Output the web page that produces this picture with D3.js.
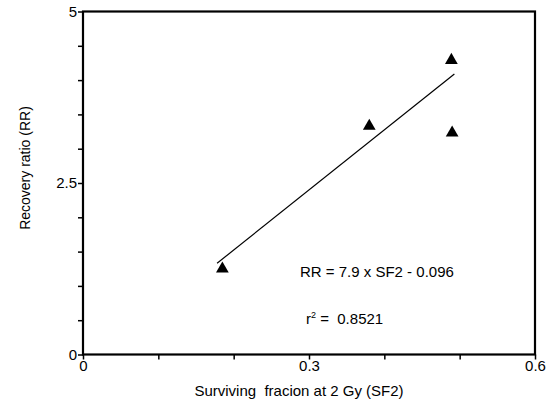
<!DOCTYPE html>
<html>
<head>
    <title>Recovery ratio vs SF2</title>
    <script src="https://d3js.org/d3.v7.min.js"></script>
    <style>
        body {
            margin: 0;
            padding: 0;
            background-color: #fff;
            font-family: "Liberation Sans", Arial, sans-serif;
        }
        .axis text {
            fill: #000;
            font-family: "Liberation Sans", Arial, sans-serif;
            font-size: 15px;
        }
        .axis path {
            stroke: none;
        }
        .axis line {
            stroke: #000;
            stroke-width: 1.5;
        }
        .label {
            fill: #000;
            font-size: 15px;
            white-space: pre;
        }
    </style>
</head>
<body>
    <svg id="chart"></svg>
    <script>
        // Data
        const sf2 = [0.185, 0.380, 0.489, 0.490];
        const rr = [1.25, 3.33, 4.29, 3.23];
        const fitX = [0.178, 0.493];
        const fitY = [1.33, 4.09];
        const xTicks = [0, 0.1, 0.2, 0.3, 0.4, 0.5, 0.6];
        const xTickLabels = ['0', '', '', '0.3', '', '', '0.6'];
        const yTicks = [0, 0.5, 1, 1.5, 2, 2.5, 3, 3.5, 4, 4.5, 5];
        const yTickLabels = ['0', '', '', '', '', '2.5', '', '', '', '', '5'];

        const W = 558, H = 410;
        const margin = { top: 11.5, right: 23, bottom: 55.5, left: 83 };
        const width = W - margin.left - margin.right;
        const height = H - margin.top - margin.bottom;

        const svg = d3.select('#chart')
            .attr('width', W)
            .attr('height', H)
            .append('g')
            .attr('transform', `translate(${margin.left},${margin.top})`);

        const x = d3.scaleLinear().domain([0, 0.6]).range([0, width]);
        const y = d3.scaleLinear().domain([0, 5]).range([height, 0]);

        // Axes
        svg.append('g')
            .attr('class', 'axis')
            .attr('transform', `translate(0,${height})`)
            .call(d3.axisBottom(x)
                .tickValues(xTicks)
                .tickSize(5)
                .tickPadding(1)
                .tickFormat((d, i) => xTickLabels[i]));

        svg.append('g')
            .attr('class', 'axis')
            .call(d3.axisLeft(y)
                .tickValues(yTicks)
                .tickSize(5)
                .tickPadding(1)
                .tickFormat((d, i) => yTickLabels[i]));

        // Frame
        svg.append('rect')
            .attr('x', 0)
            .attr('y', 0)
            .attr('width', width)
            .attr('height', height)
            .attr('fill', 'none')
            .attr('stroke', '#000')
            .attr('stroke-width', 2.2);

        // Regression line
        svg.append('line')
            .attr('x1', x(fitX[0]))
            .attr('y1', y(fitY[0]))
            .attr('x2', x(fitX[1]))
            .attr('y2', y(fitY[1]))
            .attr('stroke', '#000')
            .attr('stroke-width', 1.2);

        // Points
        const tri = d3.symbol().type(d3.symbolTriangle).size(70);
        svg.selectAll('.pt')
            .data(sf2.map((d, i) => ({ sf: d, rr: rr[i] })))
            .enter()
            .append('path')
            .attr('class', 'pt')
            .attr('d', tri)
            .attr('transform', d => `translate(${x(d.sf)},${y(d.rr)})`)
            .attr('fill', '#000');

        // Annotations
        svg.append('text')
            .attr('class', 'label')
            .attr('x', 300 - margin.left)
            .attr('y', 277 - margin.top)
            .text('RR = 7.9 x SF2 - 0.096');

        const r2 = svg.append('text')
            .attr('class', 'label')
            .attr('x', 306 - margin.left)
            .attr('y', 324 - margin.top);
        r2.append('tspan').text('r');
        r2.append('tspan').attr('dy', -6).style('font-size', '9px').text('2');
        r2.append('tspan').attr('dy', 6).text(' =  0.8521');

        // Axis titles
        svg.append('text')
            .attr('class', 'label')
            .attr('x', 299 - margin.left)
            .attr('y', 396 - margin.top)
            .attr('text-anchor', 'middle')
            .text('Surviving  fracion at 2 Gy (SF2)');

        svg.append('text')
            .attr('class', 'label')
            .attr('transform', `translate(${30 - margin.left},${168 - margin.top}) rotate(-90)`)
            .attr('text-anchor', 'middle')
            .style('font-size', '14px')
            .text('Recovery ratio (RR)');
    </script>
</body>
</html>
